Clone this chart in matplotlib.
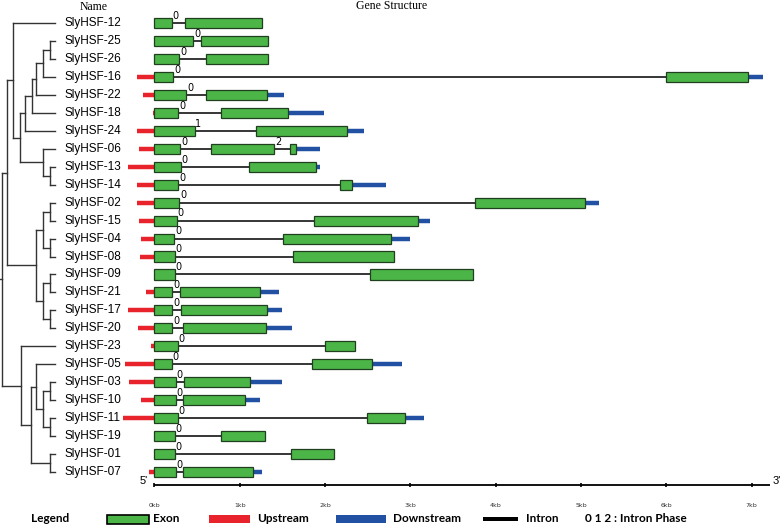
import matplotlib
matplotlib.use("Agg")
import matplotlib.pyplot as plt
from matplotlib.patches import Rectangle

# ──────────────────────────────────────────────────────────────────────────────
# Данные: гены, UTR, экзоны (kb), фазы интронов
# ──────────────────────────────────────────────────────────────────────────────
names = ["SlyHSF-12", "SlyHSF-25", "SlyHSF-26", "SlyHSF-16", "SlyHSF-22", "SlyHSF-18",
         "SlyHSF-24", "SlyHSF-06", "SlyHSF-13", "SlyHSF-14", "SlyHSF-02", "SlyHSF-15",
         "SlyHSF-04", "SlyHSF-08", "SlyHSF-09", "SlyHSF-21", "SlyHSF-17", "SlyHSF-20",
         "SlyHSF-23", "SlyHSF-05", "SlyHSF-03", "SlyHSF-10", "SlyHSF-11", "SlyHSF-19",
         "SlyHSF-01", "SlyHSF-07"]

# длина 5' UTR (kb), рисуется левее нуля
upstream = [0, 0, 0, 0.20, 0.14, 0.02, 0.21, 0.18, 0.31, 0.21, 0.21, 0.18, 0.16,
            0.17, 0, 0.10, 0.31, 0.19, 0.04, 0.35, 0.30, 0.16, 0.37, 0, 0, 0.06]

exons = [
    [(0, 0.20), (0.36, 1.26)],
    [(0, 0.455), (0.54, 1.33)],
    [(0, 0.29), (0.60, 1.33)],
    [(0, 0.22), (6.00, 6.96)],
    [(0, 0.37), (0.60, 1.32)],
    [(0, 0.28), (0.78, 1.56)],
    [(0, 0.47), (1.19, 2.26)],
    [(0, 0.30), (0.66, 1.40), (1.59, 1.66)],
    [(0, 0.31), (1.11, 1.89)],
    [(0, 0.28), (2.18, 2.32)],
    [(0, 0.29), (3.76, 5.05)],
    [(0, 0.26), (1.87, 3.09)],
    [(0, 0.23), (1.51, 2.77)],
    [(0, 0.24), (1.62, 2.81)],
    [(0, 0.24), (2.53, 3.73)],
    [(0, 0.21), (0.30, 1.24)],
    [(0, 0.21), (0.31, 1.32)],
    [(0, 0.21), (0.33, 1.31)],
    [(0, 0.27), (2.00, 2.35)],
    [(0, 0.20), (1.85, 2.55)],
    [(0, 0.25), (0.35, 1.12)],
    [(0, 0.25), (0.33, 1.06)],
    [(0, 0.27), (2.49, 2.94)],
    [(0, 0.24), (0.78, 1.30)],
    [(0, 0.24), (1.60, 2.11)],
    [(0, 0.25), (0.33, 1.16)],
]

# конец 3' UTR (kb), None — нет
downstream_end = [None, None, None, 7.13, 1.52, 1.99, 2.46, 1.94, 1.94, 2.71, 5.21, 3.23,
                  3.00, None, None, 1.46, 1.49, 1.61, None, 2.90, 1.49, 1.24, 3.16,
                  None, None, 1.26]

phases = [["0"]] * 26
phases = [list(p) for p in phases]
phases[6] = ["1"]
phases[7] = ["0", "2"]

# дерево: лист — имя, узел — (глубина 0..1, [потомки])
tree = (0.0, [
    (0.094, [
        (0.213, ["SlyHSF-12",
                 (0.34, [
                     (0.434, [
                         (0.566, [
                             (0.642, [
                                 (0.774, [(0.906, ["SlyHSF-25", "SlyHSF-26"]), "SlyHSF-16"]),
                                 "SlyHSF-22"]),
                             "SlyHSF-18"]),
                         "SlyHSF-24"]),
                     (0.774, ["SlyHSF-06", (0.906, ["SlyHSF-13", "SlyHSF-14"])]),
                 ])]),
        (0.642, [
            (0.774, [(0.906, ["SlyHSF-02", "SlyHSF-15"]), (0.906, ["SlyHSF-04", "SlyHSF-08"])]),
            (0.774, [(0.906, ["SlyHSF-09", "SlyHSF-21"]), (0.906, ["SlyHSF-17", "SlyHSF-20"])]),
        ]),
    ]),
    (0.358, [
        "SlyHSF-23",
        (0.547, [
            (0.642, ["SlyHSF-05",
                     (0.774, [(0.906, ["SlyHSF-03", "SlyHSF-10"]),
                              (0.906, ["SlyHSF-11", "SlyHSF-19"])])]),
            (0.906, ["SlyHSF-01", "SlyHSF-07"]),
        ]),
    ]),
])

kb_ticks = [0, 1, 2, 3, 4, 5, 6, 7]

EXON = "#4cb548"
EXON_EDGE = "#1f3f1f"
UP = "#e8232b"
DOWN = "#2250a3"

W, H = 780, 529
fig = plt.figure(figsize=(W / 100, H / 100), dpi=100)
fig.patch.set_facecolor("white")

YLIM = (28.17, -1.281)

# ──────────────────────────────────────────────────────────────────────────────
# Структура генов
# ──────────────────────────────────────────────────────────────────────────────
ax = fig.add_axes([0, 0, 1, 1])
ax.set_xlim(-1.811, 7.333)
ax.set_ylim(*YLIM)
ax.axis("off")

for i, name in enumerate(names):
    ex = exons[i]
    if upstream[i] > 0:
        ax.hlines(i, -upstream[i], ex[0][0], color=UP, lw=3.2, zorder=2)
    if downstream_end[i] is not None:
        ax.hlines(i, ex[-1][1], downstream_end[i], color=DOWN, lw=3.2, zorder=2)
    for k in range(len(ex) - 1):
        ax.hlines(i, ex[k][1], ex[k + 1][0], color="black", lw=1.1, zorder=1)
        ax.text(ex[k][1] + 0.01, i - 0.12, phases[i][k], fontsize=7,
                family="DejaVu Sans", ha="left", va="bottom", zorder=4)
    ax.barh([i] * len(ex), [e - s for s, e in ex], left=[s for s, e in ex],
            height=0.56, color=EXON, edgecolor=EXON_EDGE, linewidth=0.9, zorder=3)
    ax.text(-1.06, i, name, fontsize=8.5, family="Liberation Sans",
            ha="left", va="center")

# шкала
sy = 25.72
ax.hlines(sy, 0, 7.22, color="black", lw=1.3)
ax.vlines(kb_ticks, sy - 0.13, sy + 0.1, color="black", lw=1.2)
for t in kb_ticks:
    ax.text(t, sy + 1.15, f"{t}kb", fontsize=4.5, color="#333333",
            family="DejaVu Sans", ha="center", va="center")
ax.text(-0.08, sy - 0.25, "5'", fontsize=8, family="Liberation Sans",
        ha="right", va="center")
ax.text(7.24, sy - 0.25, "3'", fontsize=8, family="Liberation Sans",
        ha="left", va="center")

fig.text(94 / W, 1 - 7 / H, "Name", fontsize=8.5, family="Liberation Serif",
         ha="center", va="center")
fig.text(392 / W, 1 - 6 / H, "Gene Structure", fontsize=8.5, family="Liberation Serif",
         ha="center", va="center")

# ──────────────────────────────────────────────────────────────────────────────
# Дерево
# ──────────────────────────────────────────────────────────────────────────────
tax = fig.add_axes([2 / W, 0, 53 / W, 1])
tax.set_xlim(0, 1)
tax.set_ylim(*YLIM)
tax.axis("off")
TREE = "#333333"


def draw(node):
    if isinstance(node, str):
        return 1.0, names.index(node)
    depth, kids = node
    pts = [draw(k) for k in kids]
    ys = [p[1] for p in pts]
    for x, y in pts:
        tax.plot([depth, x], [y, y], color=TREE, lw=1.0, clip_on=False)
    tax.plot([depth, depth], [min(ys), max(ys)], color=TREE, lw=1.0, clip_on=False)
    return depth, (min(ys) + max(ys)) / 2


rx, ry = draw(tree)
tax.plot([-0.04, rx], [ry, ry], color=TREE, lw=1.0, clip_on=False)

# ──────────────────────────────────────────────────────────────────────────────
# Легенда
# ──────────────────────────────────────────────────────────────────────────────
ly = 1 - 519 / H
lfont = dict(fontsize=8.5, family="Lato", weight="bold", va="center", ha="left")
fig.text(31 / W, ly, "Legend", **lfont)
fig.patches.append(Rectangle((107 / W, ly - 4.5 / H), 42 / W, 9 / H, facecolor=EXON,
                             edgecolor="black", lw=1.2, transform=fig.transFigure))
fig.text(153 / W, ly, "Exon", **lfont)
fig.patches.append(Rectangle((209 / W, ly - 4 / H), 41 / W, 8 / H, facecolor=UP,
                             edgecolor="none", transform=fig.transFigure))
fig.text(257 / W, ly, "Upstream", **lfont)
fig.patches.append(Rectangle((336 / W, ly - 4 / H), 50 / W, 8 / H, facecolor=DOWN,
                             edgecolor="none", transform=fig.transFigure))
fig.text(393 / W, ly, "Downstream", **lfont)
fig.patches.append(Rectangle((483 / W, ly - 2 / H), 35 / W, 4 / H, facecolor="black",
                             edgecolor="none", transform=fig.transFigure))
fig.text(526 / W, ly, "Intron", **lfont)
fig.text(585 / W, ly, "0 1 2 : Intron Phase", **lfont)

fig.savefig("out.png", dpi=100)
